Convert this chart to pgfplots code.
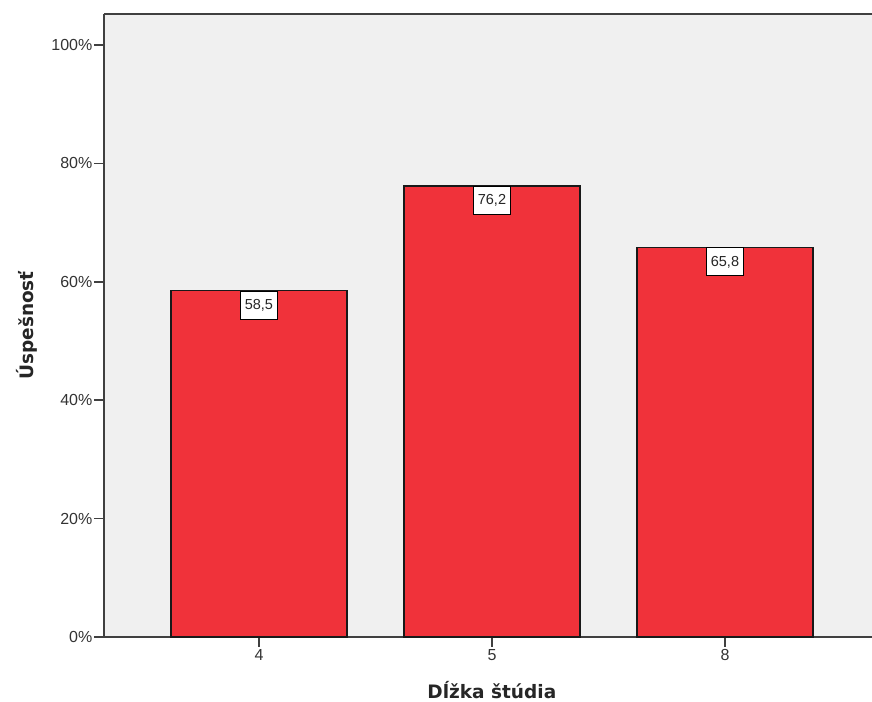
\documentclass[border=0pt]{standalone}
\usepackage{fontspec}
\setmainfont{Liberation Sans}
\newfontfamily\labelfont{DejaVu Sans}
\usepackage{pgfplots}
\pgfplotsset{compat=1.18}

\definecolor{bggray}{RGB}{240,240,240}
\definecolor{barred}{RGB}{240,50,58}
\definecolor{axisgray}{RGB}{64,64,64}

\begin{document}
\begin{tikzpicture}
  \begin{axis}[
    at={(0,0)}, anchor=south west,
    scale only axis,
    width=768bp, height=623bp,
    xmin=-0.665, xmax=2.631,
    ymin=0, ymax=105.24,
    axis x line*=bottom,
    axis y line*=left,
    axis line style={axisgray, line width=2bp},
    axis background/.style={fill=bggray},
    tick align=outside,
    major tick length=10bp,
    every tick/.style={axisgray, line width=1.5bp},
    xtick={0,1,2},
    xticklabels={4,5,8},
    ytick={0,20,40,60,80,100},
    yticklabels={0\%,20\%,40\%,60\%,80\%,100\%},
    tick label style={font=\fontsize{16bp}{18bp}\selectfont, text=black!80},
    yticklabel style={inner xsep=1.5bp},
    xticklabel style={inner ysep=2bp},
    xlabel={Dĺžka štúdia},
    ylabel={Úspešnosť},
    label style={font=\labelfont\bfseries\fontsize{18.5bp}{21bp}\selectfont, text=black!85},
    xlabel style={at={(axis description cs:0.505,-0.0995)}, anchor=base},
    ylabel style={at={(axis description cs:-0.0924,0.5)}, anchor=base},
    ybar,
    bar width=176bp,
    bar shift=0pt,
    point meta=explicit symbolic,
    nodes near coords,
    nodes near coords style={
      anchor=north, fill=white, draw=black, line width=0.8bp,
      font=\fontsize{14.5bp}{16bp}\selectfont, text=black!85,
      inner xsep=4.5bp, minimum height=28bp
    },
    clip=false,
  ]
    \addplot[fill=barred, draw=black!90, line width=1.5bp]
      coordinates {(0,58.5) [58,5] (1,76.2) [76,2] (2,65.8) [65,8]};
    \draw[axisgray, line width=2bp] (rel axis cs:0,1) -- (rel axis cs:1,1);
  \end{axis}
  \pgfresetboundingbox
  \path (-104bp,-65bp) rectangle (768bp,637bp);
\end{tikzpicture}
\end{document}
